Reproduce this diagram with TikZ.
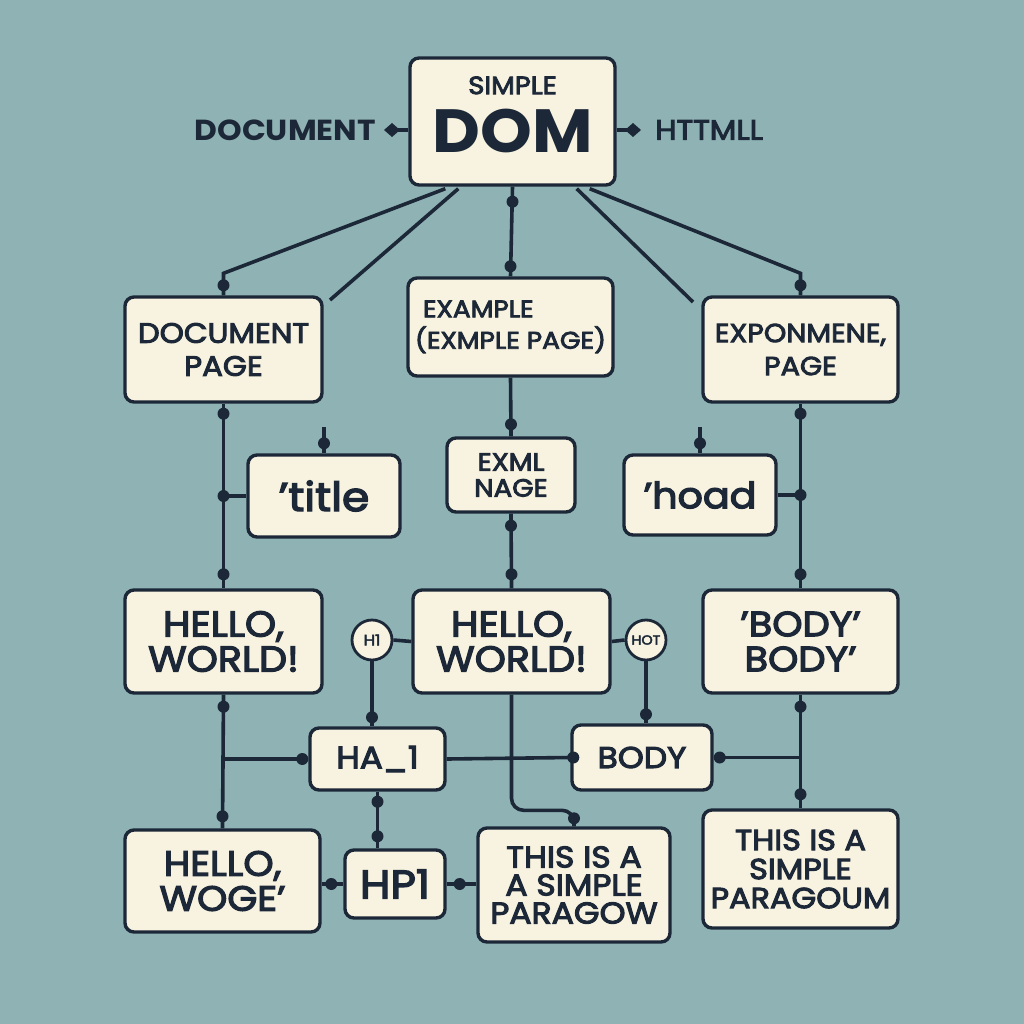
\documentclass[tikz,border=0pt]{standalone}
\usepackage{fontspec}
\setmainfont{Poppins}[FakeBold=3.5,FakeStretch=1.1]
\newfontfamily\heavy{Poppins}[BoldFont={* Bold},FakeStretch=1.08]
\usetikzlibrary{calc}
\definecolor{bgteal}{HTML}{8FB3B4}
\definecolor{cream}{HTML}{F8F3E0}
\definecolor{ink}{HTML}{1C2838}
\newcommand\fs[2]{\fontsize{#1}{#2}\selectfont}
\newcommand\mydot[1]{\fill[ink] #1 circle (6pt);}
\newcommand\mydiam[1]{\fill[ink] #1 +(-8,0) -- +(0,-7) -- +(8,0) -- +(0,7) -- cycle;}
\tikzset{
  box/.style={draw=ink, line width=3.4pt, fill=cream, rounded corners=9pt,
    align=center, inner sep=0pt, text=ink},
  tag/.style={draw=ink, line width=2.8pt, fill=cream, circle, inner sep=0pt,
    minimum size=40pt, text=ink},
  conn/.style={draw=ink, line width=3.6pt},
  lbl/.style={text=ink, inner sep=0pt}
}
\begin{document}
\begin{tikzpicture}[x=1pt,y=-1pt]
\fill[bgteal] (0,0) rectangle (1024,1024);
\useasboundingbox (0,0) rectangle (1024,1024);

% ---------- nodes ----------
\node[box, minimum width=205pt, minimum height=127pt] (dom) at (512.5,121.5) {};
\node[lbl, align=center, font=\fs{25}{58}] (domtxt) at ($(dom.center)+(0,-7)$)
  {SIMPLE\\{\heavy\bfseries\fs{61}{62}DOM}};
\node[lbl, anchor=east, font=\heavy\bfseries\fs{29}{32}] (doclbl) at (376,130) {DOCUMENT};
\node[lbl, anchor=west, font=\fs{28}{30}] (htmllbl) at (655,130) {HTTMLL};

\node[box, minimum width=197pt, minimum height=105pt, font=\fs{28}{33}] (docp) at (223.5,349.5)
  {DOCUMENT\\PAGE};
\node[box, minimum width=205pt, minimum height=98pt, font=\fs{24}{30}] (exm) at (510.5,327)
  {\begin{tabular}{@{}l@{}}\hspace{8pt}EXAMPLE\\(EXMPLE PAGE)\end{tabular}};
\node[box, minimum width=195pt, minimum height=105pt, font=\fs{26}{33}] (expo) at (800.5,349.5)
  {EXPONMENE,\\PAGE};

\node[box, minimum width=152pt, minimum height=82pt, font=\fs{40}{44}] (title) at (324,496)
  {'title};
\node[box, minimum width=128pt, minimum height=74pt, font=\fs{25}{26}] (exml) at (511,475)
  {EXML\\NAGE};
\node[box, minimum width=152pt, minimum height=80pt, font=\fs{36}{40}] (hoad) at (700,495)
  {'hoad};

\node[box, minimum width=197pt, minimum height=103pt, font=\fs{36}{35}] (hw1) at (223.5,641.5)
  {HELLO,\\WORLD!};
\node[tag, font=\fs{15}{16}] (h1) at (372,640) {H1};
\node[box, minimum width=197pt, minimum height=103pt, font=\fs{36}{35}] (hw2) at (511.5,641.5)
  {HELLO,\\WORLD!};
\node[tag, font=\fs{13}{14}] (hot) at (646,640) {HOT};
\node[box, minimum width=195pt, minimum height=103pt, font=\fs{35}{35}] (bodyq) at (800.5,641.5)
  {'BODY'\\BODY'};

\node[box, minimum width=135pt, minimum height=62pt, font=\fs{31}{32}] (ha1) at (377.5,759)
  {HA\_1};
\node[box, minimum width=140pt, minimum height=65pt, font=\fs{30}{32}] (body) at (642,757.5)
  {BODY};

\node[box, minimum width=195pt, minimum height=102pt, font=\fs{35}{35}] (woge) at (222.5,881)
  {HELLO,\\WOGE'};
\node[box, minimum width=100pt, minimum height=68pt, font=\fs{40}{42}] (hpi) at (395,884)
  {HP1};
\node[box, minimum width=192pt, minimum height=114pt, font=\fs{30}{28}] (para1) at (574,885)
  {THIS IS A\\A SIMPLE\\PARAGOW};
\node[box, minimum width=195pt, minimum height=118pt, font=\fs{29}{29}] (para2) at (800.5,869)
  {THIS IS A\\SIMPLE\\PARAGOUM};

% free ends of the two unattached lines
\coordinate (freeL) at (330,300);
\coordinate (freeR) at (693,302);

% ---------- connectors ----------
% labels beside the root
\draw[conn] ($(doclbl.east)+(14,0)$) -- (dom.west |- doclbl.east);
\mydiam{($(doclbl.east)+(16,0)$)}
\draw[conn] (dom.east |- htmllbl.west) -- ($(htmllbl.west)+(-20,0)$);
\mydiam{($(htmllbl.west)+(-22,0)$)}

% root to the first row
\draw[conn] ($(dom.south west)+(37,2)$) -- ($(docp.north)+(0,-22)$) -- (docp.north);
\mydot{($(docp.north)+(0,-10)$)}
\draw[conn] ($(dom.south west)+(50,2)$) -- (freeL);
\draw[conn] (dom.south) -- (exm.north);
\mydot{($(dom.south)+(0,15)$)}
\mydot{($(exm.north)+(0,-10)$)}
\draw[conn] ($(dom.south east)+(-40,2)$) -- (freeR);
\draw[conn] ($(dom.south east)+(-27,2)$) -- ($(expo.north)+(0,-22)$) -- (expo.north);
\mydot{($(expo.north)+(0,-10)$)}

% left column
\draw[conn] (docp.south) -- (hw1.north);
\draw[conn] (docp.south |- title.west) -- (title.west);
\mydot{($(docp.south)+(0,10)$)}
\mydot{(docp.south |- title.west)}
\mydot{($(hw1.north)+(0,-14)$)}
\draw[conn] ($(title.north)+(0,-26)$) -- (title.north);
\mydot{($(title.north)+(0,-10)$)}

% middle column
\draw[conn] (exm.south) -- (exml.north);
\mydot{($(exml.north)+(0,-12)$)}
\draw[conn] (exml.south) -- (hw2.north);
\mydot{($(exml.south)+(0,12)$)}
\mydot{($(hw2.north)+(0,-14)$)}

% right column
\draw[conn] ($(hoad.north)+(0,-26)$) -- (hoad.north);
\mydot{($(hoad.north)+(0,-10)$)}
\draw[conn] (expo.south) -- (bodyq.north);
\draw[conn] (hoad.east) -- (hoad.east -| expo.south);
\mydot{($(expo.south)+(0,10)$)}
\mydot{(hoad.east -| expo.south)}
\mydot{($(bodyq.north)+(0,-14)$)}

% tags beside the middle greeting
\draw[conn] (h1.east) -- (hw2.west);
\draw[conn] (hw2.east) -- (hot.west);
\draw[conn] (h1.south) -- (h1.south |- ha1.north);
\mydot{($(h1.south |- ha1.north)+(0,-9)$)}
\draw[conn] (hot.south) -- (hot.south |- body.north);
\mydot{($(hot.south |- body.north)+(0,-9)$)}

% lower band
\draw[conn] (hw1.south) -- (woge.north);
\mydot{($(hw1.south)+(0,12)$)}
\mydot{($(woge.north)+(0,-12)$)}
\draw[conn] (hw1.south |- ha1.west) -- (ha1.west);
\mydot{($(ha1.west)+(-6,0)$)}
\draw[conn] (ha1.east) -- (body.west);
\mydot{($(body.west)+(3,0)$)}
\draw[conn] (body.east) -- (body.east -| bodyq.south);
\mydot{($(body.east)+(6,0)$)}
\draw[conn] (bodyq.south) -- (para2.north);
\mydot{($(bodyq.south)+(0,12)$)}
\mydot{($(para2.north)+(0,-14)$)}
\draw[conn, rounded corners=12pt] (hw2.south) |- ($(para1.north)+(0,-16)$) -- (para1.north);
\mydot{($(para1.north)+(0,-8)$)}
\draw[conn] (ha1.south) -- (ha1.south |- hpi.north);
\mydot{($(ha1.south)+(0,10)$)}
\mydot{($(ha1.south |- hpi.north)+(0,-12)$)}
\draw[conn] (hpi.west -| woge.east) -- (hpi.west);
\mydot{($(hpi.west)+(-12,0)$)}
\draw[conn] (hpi.east) -- (hpi.east -| para1.west);
\mydot{($(hpi.east)+(13,0)$)}
\end{tikzpicture}
\end{document}
